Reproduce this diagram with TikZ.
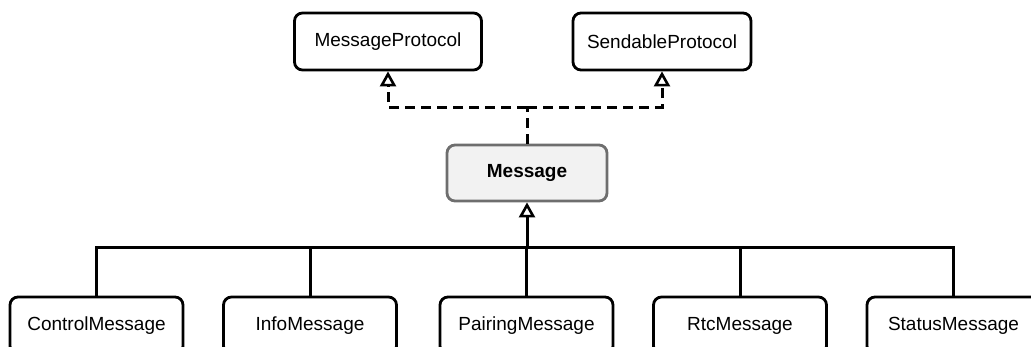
\documentclass[tikz,border=0pt]{standalone}
\usepackage{fontspec}
\setmainfont{Liberation Sans}
\usetikzlibrary{arrows.meta,calc,positioning}
\definecolor{baseF}{HTML}{F2F2F2}
\definecolor{baseD}{HTML}{6E6E6E}
\definecolor{lineC}{HTML}{000000}
\tikzset{
  box/.style={rounded corners=8pt, draw=lineC, fill=white, line width=2.8pt, align=center,
              minimum width=173pt, minimum height=57pt, inner sep=0pt, font=\fontsize{19}{22}\selectfont},
  proto/.style={box, minimum width=187pt},
  base/.style={box, fill=baseF, draw=baseD, minimum width=160pt, minimum height=56pt, font=\fontsize{19}{22}\selectfont\bfseries},
  link/.style={draw=lineC, line width=3pt},
  inh/.style={link, -{Triangle[open, length=15pt, width=16pt, line width=2.6pt, fill=white]}},
  real/.style={inh, dash pattern=on 10pt off 6pt},
}
\begin{document}
\begin{tikzpicture}[x=1pt, y=-1pt]
\useasboundingbox (0,0) rectangle (1031,346);
\clip (0,0) rectangle (1031,346);
\node[proto] (mproto) at (388,41.5) {MessageProtocol};
\node[proto, minimum width=178pt] (sproto) at (662,41.5) {SendableProtocol};
\node[base] (msg) at (527,173) {Message};
\node[box] (ctrl) at (96.5,325.5) {ControlMessage};
\node[box] (info) at (310,325.5) {InfoMessage};
\node[box] (pair) at (526.5,325.5) {PairingMessage};
\node[box] (rtc) at (740,325.5) {RtcMessage};
\node[box] (stat) at (953.5,325.5) {StatusMessage};
% realization, dashed
\coordinate (split) at (527,107);
\draw[link, dash pattern=on 10pt off 6pt] (msg.north) -- (split);
\draw[real] (split) -| (mproto.south);
\draw[real] (split) -| (sproto.south);
% inheritance bus
\coordinate (bus) at (527,247);
\draw[link] (ctrl.north) |- (bus) -| (stat.north);
\foreach \c in {info,pair,rtc} \draw[link] (\c.north) -- (\c.north |- bus);
\draw[inh] (msg.south |- bus) -- (msg.south);
\end{tikzpicture}
\end{document}
